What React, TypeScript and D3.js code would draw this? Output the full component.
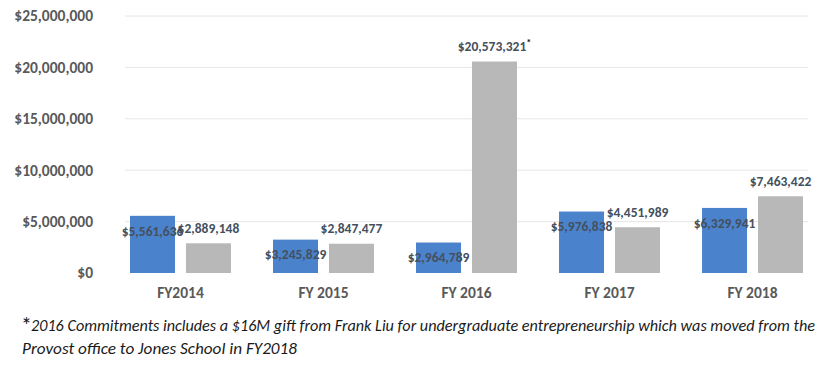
import React from 'react';
import * as d3 from 'd3';

const years = ['FY2014', 'FY 2015', 'FY 2016', 'FY 2017', 'FY 2018'];
const seriesA = [5561636, 3245829, 2964789, 5976838, 6329941];
const seriesB = [2889148, 2847477, 20573321, 4451989, 7463422];
const yTicks = [0, 5000000, 10000000, 15000000, 20000000, 25000000];
const footLine1 = '2016 Commitments includes a $16M gift from Frank Liu for undergraduate entrepreneurship which was moved from the';
const footLine2 = 'Provost office to Jones School in FY2018';

const W = 833;
const H = 372;
const font = "Carlito, 'Liberation Sans Narrow', 'DejaVu Sans Condensed', Arial, sans-serif";
const fmt = (v: number) => '$' + d3.format(',')(v);

export default function App() {
  const x0 = d3.scaleBand<string>().domain(years).range([125, 808]).paddingInner(0.294).paddingOuter(0.035);
  const x1 = d3.scaleBand<string>().domain(['a', 'b']).range([0, x0.bandwidth()]).paddingInner(0.196);
  const y = d3.scaleLinear().domain([0, 25000000]).range([273, 16]);

  return (
    <svg width={W} height={H} style={{ position: 'absolute', left: 0, top: 0, background: '#fff' }} fontFamily={font}>
      {yTicks.map(t => (
        <g key={t}>
          {t > 0 && <line x1={125} x2={808} y1={y(t)} y2={y(t)} stroke="#e6e6e6" strokeWidth={1} />}
          <text x={93} y={y(t)} dy="0.35em" textAnchor="end" fontSize={15.5} fontWeight="bold" fill="#595959">{fmt(t)}</text>
        </g>
      ))}
      {years.map((yr, i) => {
        const gx = x0(yr)!;
        const ax = gx + x1('a')!;
        const bx = gx + x1('b')!;
        const bw = x1.bandwidth();
        return (
          <g key={yr}>
            <rect x={ax} y={y(seriesA[i])} width={bw} height={y(0) - y(seriesA[i])} fill="#4a82cc" />
            <rect x={bx} y={y(seriesB[i])} width={bw} height={y(0) - y(seriesB[i])} fill="#b8b8b8" />
            <text x={ax + bw / 2} y={y(seriesA[i]) + 15} dy="0.35em" textAnchor="middle" fontSize={13.5} fontWeight="bold" fill="#44505e">{fmt(seriesA[i])}</text>
            <text x={bx + bw / 2} y={y(seriesB[i]) - 15} dy="0.35em" textAnchor="middle" fontSize={13.5} fontWeight="bold" fill="#44505e">
              {fmt(seriesB[i])}
              {i === 2 && <tspan dy="-5" fontSize={10} fill="#111">*</tspan>}
            </text>
            <text x={gx + x0.bandwidth() / 2} y={293} dy="0.35em" textAnchor="middle" fontSize={15.5} fontWeight="bold" fill="#595959">{yr}</text>
          </g>
        );
      })}
      <text x={21} y={333} fontSize={22} fill="#111">*</text>
      <text x={31} y={331} fontSize={16} fontStyle="italic" fill="#1a1a1a" textLength={784} lengthAdjust="spacingAndGlyphs">{footLine1}</text>
      <text x={22} y={354} fontSize={16} fontStyle="italic" fill="#1a1a1a" textLength={275} lengthAdjust="spacingAndGlyphs">{footLine2}</text>
    </svg>
  );
}
